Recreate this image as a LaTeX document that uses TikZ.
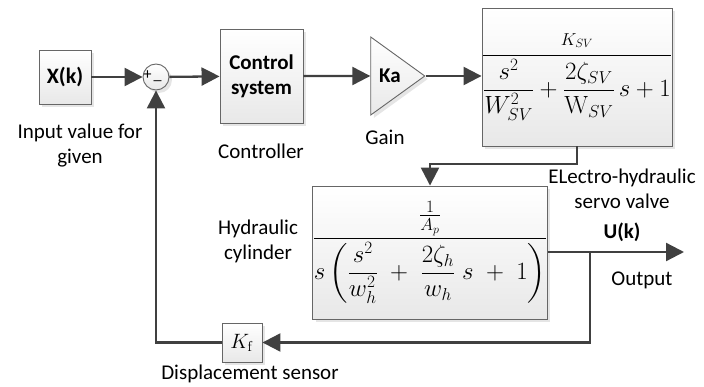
\documentclass[tikz,border=0pt]{standalone}
\usepackage{amsmath}
\usepackage[no-math]{fontspec}
\setmainfont{Carlito}
\usetikzlibrary{arrows.meta,shapes.geometric,shadows}
\begin{document}
\begin{tikzpicture}[x=1pt,y=-1pt,
  font=\fontsize{21}{25}\selectfont,
  blk/.style={draw=black!60, line width=0.9pt, top color=white, bottom color=black!9,
    drop shadow={shadow xshift=3pt,shadow yshift=-3pt,fill=black!20}, inner sep=0pt},
  wire/.style={draw=black!75, line width=2.3pt},
  arr/.style={wire, -{Triangle[length=18pt,width=18pt]}},
  lbl/.style={align=center, inner sep=0pt},
  bold/.style={font=\fontsize{21}{25}\selectfont\bfseries}]
\useasboundingbox (0,0) rectangle (704,387);

% blocks
\node[blk, minimum width=52pt, minimum height=54pt, font=\fontsize{22}{25}\selectfont\bfseries] (x) at (65,77) {X(k)};
\node[blk, circle, minimum size=26pt] (sum) at (156,77) {};
\node[inner sep=0pt, font=\fontsize{16}{16}\selectfont] (plus) at (147.5,75.5) {+};
\node[inner sep=0pt, font=\fontsize{16}{16}\selectfont] (minus) at (157.5,81) {\_};
\node[blk, minimum width=83pt, minimum height=94pt, align=center, bold] (ctrl) at (261.5,76) {Control\\system};
\node[blk, isosceles triangle, isosceles triangle stretches, shape border rotate=0,
      minimum width=78pt, minimum height=54pt, bold] (ka) at (390,76) {Ka};
\node[blk, minimum width=185pt, minimum height=138pt, font=\fontsize{25}{30}\selectfont] (sv) at (577,77)
  {$\displaystyle\frac{\scriptstyle K_{SV}}{\dfrac{s^2}{W_{SV}^2}+\dfrac{2\zeta_{SV}}{\mathrm{W}_{SV}}\,s+1}$};
\node[blk, minimum width=224pt, minimum height=133pt, font=\fontsize{23}{28}\selectfont] (hc) at (430,252.5)
  {$\displaystyle\frac{\frac{1}{A_p}}{s\left(\dfrac{s^2}{w_h^2}\;+\;\dfrac{2\zeta_h}{w_h}\;s\;+\;1\right)}$};
\node[blk, minimum width=40pt, minimum height=39pt, font=\fontsize{22}{24}\selectfont] (kf) at (242,342.5) {$K_{\mathrm f}$};

% wires
\coordinate (bend) at (430,164);
\coordinate (br) at (590,252);
\coordinate (out) at (684,252);
\draw[arr] (x) -- (sum);
\draw[arr] (sum) -- (ctrl);
\draw[arr] (ctrl.east) -- (ka.west);
\draw[arr] (ka.east) -- (sv.west |- ka.east);
\draw[arr] (sv.south) |- (bend) -- (hc.north);
\draw[arr] (hc.east |- br) -- (out);
\draw[arr] (br) |- (kf.east);
\draw[arr] (kf.west) -| (sum.south);

% labels
\node[lbl] (l1) at (80,146) {Input value for\\given};
\node[lbl] (l2) at (261,151) {Controller};
\node[lbl] (l3) at (385,137) {Gain};
\node[lbl] (l4) at (622,189) {ELectro-hydraulic\\servo valve};
\node[lbl, bold] (l5) at (622,232) {U(k)};
\node[lbl] (l6) at (642,280) {Output};
\node[lbl] (l7) at (258,241) {Hydraulic\\cylinder};
\node[lbl] (l8) at (250,374) {Displacement sensor};
\end{tikzpicture}
\end{document}
